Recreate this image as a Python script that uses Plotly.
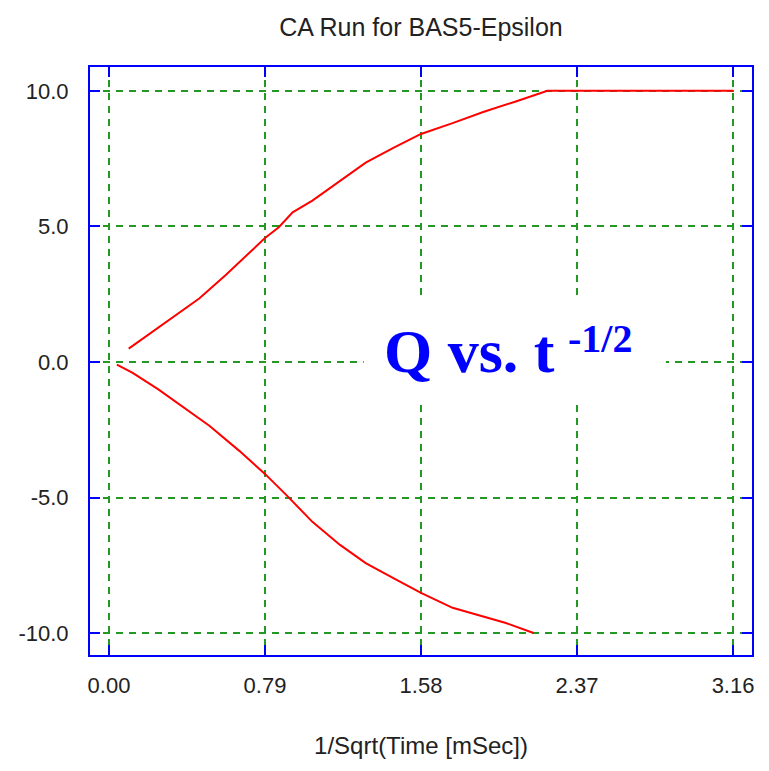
import plotly.graph_objects as go

# Upper branch (charging)
up_x = [0.10, 0.20, 0.32, 0.457, 0.59, 0.694, 0.79, 0.86, 0.93, 1.03, 1.17, 1.30, 1.44, 1.58, 1.74, 1.895, 2.06, 2.22, 2.60, 3.16]
up_y = [0.49, 1.00, 1.61, 2.34, 3.20, 3.93, 4.57, 4.97, 5.52, 5.95, 6.68, 7.35, 7.90, 8.41, 8.81, 9.22, 9.61, 10.0, 10.0, 10.0]

# Lower branch (discharging)
lo_x = [0.04, 0.12, 0.25, 0.37, 0.51, 0.66, 0.79, 0.90, 1.03, 1.17, 1.30, 1.44, 1.58, 1.74, 1.895, 2.01, 2.15]
lo_y = [-0.10, -0.40, -1.01, -1.62, -2.36, -3.28, -4.13, -4.92, -5.90, -6.75, -7.42, -7.97, -8.52, -9.07, -9.38, -9.63, -10.0]

x_ticks = [0.00, 0.79, 1.58, 2.37, 3.16]
y_ticks = [-10.0, -5.0, 0.0, 5.0, 10.0]

title_text = "CA Run for BAS5-Epsilon"
x_title = "1/Sqrt(Time [mSec])"
note_main = "<b>Q vs. t</b>"
note_sup = "<b>-1/2</b>"

BLUE = "#0000FF"
GREEN = "#229922"
RED = "#FF0000"

fig = go.Figure()
fig.add_trace(go.Scatter(x=up_x, y=up_y, mode="lines",
                         line=dict(color=RED, width=2), showlegend=False))
fig.add_trace(go.Scatter(x=lo_x, y=lo_y, mode="lines",
                         line=dict(color=RED, width=2), showlegend=False))

axis_common = dict(
    showline=True, linecolor=BLUE, linewidth=2, mirror="ticks",
    ticks="inside", ticklen=10, tickwidth=2, tickcolor=BLUE,
    showgrid=True, gridcolor=GREEN, gridwidth=2, griddash="7px,6px",
    zeroline=False, automargin=False,
    tickfont=dict(family="Liberation Sans, Arial, sans-serif", size=22, color="#222222"),
)

fig.update_xaxes(**axis_common, range=[-0.096, 3.256], tickmode="array",
                 tickvals=x_ticks, ticktext=[f"{v:.2f}" for v in x_ticks],
                 ticklabelstandoff=10,
                 title=dict(text=x_title, standoff=40,
                            font=dict(family="Liberation Sans, Arial, sans-serif", size=24, color="#222222")))
fig.update_yaxes(**axis_common, range=[-10.81, 10.88], tickmode="array",
                 tickvals=y_ticks, ticktext=[f"{v:.1f}" for v in y_ticks],
                 ticklabelstandoff=15)

# Blue dashed zero line drawn over the grid, under the data
fig.add_shape(type="line", xref="paper", x0=0, x1=1, yref="y", y0=0, y1=0,
              line=dict(color="white", width=3), layer="between")
fig.add_shape(type="line", xref="paper", x0=0, x1=1, yref="y", y0=0, y1=0,
              line=dict(color=BLUE, width=2, dash="7px,6px"), layer="between")

# White panel behind the label
fig.add_shape(type="rect", xref="x", yref="y", x0=1.29, x1=2.82, y0=-1.40, y1=2.29,
              fillcolor="white", line=dict(width=0), layer="above")

fig.add_annotation(x=1.383, y=0.40, xref="x", yref="y", text=note_main,
                   showarrow=False, xanchor="left", yanchor="middle",
                   font=dict(family="Liberation Serif, Times New Roman, serif", size=62, color=BLUE))
fig.add_annotation(x=2.314, y=0.88, xref="x", yref="y", text=note_sup,
                   showarrow=False, xanchor="left", yanchor="middle",
                   font=dict(family="Liberation Serif, Times New Roman, serif", size=40, color=BLUE))

fig.update_layout(
    width=761, height=763,
    margin=dict(l=82, r=17, t=59, b=116),
    paper_bgcolor="white", plot_bgcolor="white",
    title=dict(text=title_text, x=0.5, xref="paper", xanchor="center",
               y=1 - 19 / 763, yref="container", yanchor="middle",
               font=dict(family="Liberation Sans, Arial, sans-serif", size=25, color="#222222")),
)

fig.write_html("out.html")
